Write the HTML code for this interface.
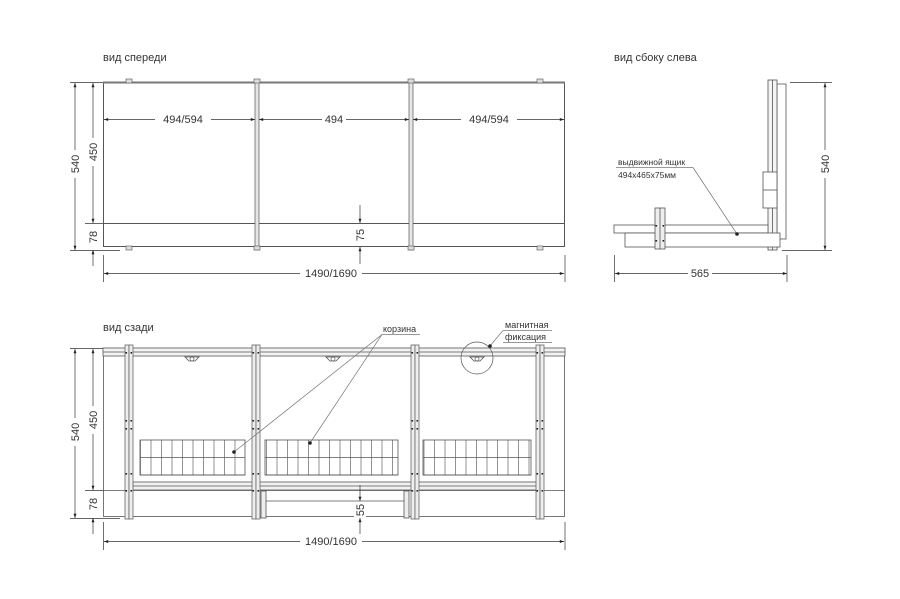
<!DOCTYPE html>
<html><head><meta charset="utf-8"><style>
html,body{margin:0;padding:0;background:#fff;width:900px;height:599px;overflow:hidden}
svg{display:block}
text{font-family:"Liberation Sans","DejaVu Sans",sans-serif;fill:#333}
</style></head><body>
<svg width="900" height="599" viewBox="0 0 900 599" xmlns="http://www.w3.org/2000/svg">
<defs>
<marker id="a" viewBox="0 0 10 10" refX="10" refY="5" markerWidth="8" markerHeight="6" orient="auto-start-reverse"><path d="M0,1.5 L10,5 L0,8.5 z" fill="#222"/></marker>
<pattern id="vg" x="140" y="0" width="10.5" height="10" patternUnits="userSpaceOnUse"><line x1="0.5" y1="0" x2="0.5" y2="10" stroke="#777" stroke-width="0.8"/></pattern>
<g id="post">
<rect x="0" y="0" width="4" height="174" fill="#eee" stroke="#666" stroke-width="0.8"/>
<rect x="4" y="0" width="4" height="174" fill="#eee" stroke="#666" stroke-width="0.8"/>
<g fill="#222"><rect x="0.5" y="7" width="1.6" height="1.6"/><rect x="5.5" y="7" width="1.6" height="1.6"/>
<rect x="0.5" y="75" width="1.6" height="1.6"/><rect x="5.5" y="75" width="1.6" height="1.6"/>
<rect x="0.5" y="83" width="1.6" height="1.6"/><rect x="5.5" y="83" width="1.6" height="1.6"/>
<rect x="0.5" y="128" width="1.6" height="1.6"/><rect x="5.5" y="128" width="1.6" height="1.6"/>
<rect x="0.5" y="145" width="1.6" height="1.6"/><rect x="5.5" y="145" width="1.6" height="1.6"/></g>
</g>
<g id="bolt"><rect x="-3" y="-2" width="6" height="4" fill="#ddd" stroke="#666" stroke-width="0.7"/></g>
<g id="hook"><path d="M-7,0 L7,0 L3,4 L-3,4 z" fill="#fff" stroke="#555" stroke-width="0.8"/><circle cx="0" cy="2" r="2" fill="none" stroke="#555" stroke-width="0.7"/></g>
</defs>

<!-- Titles -->
<text x="103" y="61" font-size="11">вид спереди</text>
<text x="614" y="61" font-size="11">вид сбоку слева</text>
<text x="103" y="331" font-size="11">вид сзади</text>

<!-- FRONT VIEW -->
<g stroke="#555" fill="none">
<rect x="103.5" y="82.5" width="461" height="164" stroke-width="1"/>
<line x1="103" y1="82.5" x2="565" y2="82.5" stroke-width="2" stroke="#777"/>
<line x1="103" y1="223.5" x2="565" y2="223.5" stroke-width="1"/>
<rect x="255" y="80" width="4" height="170" fill="#e6e6e6" stroke-width="0.7"/>
<rect x="409" y="80" width="4" height="170" fill="#e6e6e6" stroke-width="0.7"/>
</g>
<use href="#bolt" x="129" y="81"/><use href="#bolt" x="257" y="81"/><use href="#bolt" x="411" y="81"/><use href="#bolt" x="540" y="81"/>
<use href="#bolt" x="129" y="248"/><use href="#bolt" x="257" y="248"/><use href="#bolt" x="411" y="248"/><use href="#bolt" x="540" y="248"/>
<g stroke="#333" stroke-width="0.7" fill="none">
<!-- vertical dims -->
<line x1="70" y1="82.5" x2="103" y2="82.5"/>
<line x1="70" y1="250.5" x2="120" y2="250.5"/>
<line x1="85" y1="223.5" x2="103" y2="223.5"/>
<line x1="75" y1="83" x2="75" y2="250" marker-start="url(#a)" marker-end="url(#a)"/>
<line x1="93" y1="83" x2="93" y2="223" marker-start="url(#a)" marker-end="url(#a)"/>
<line x1="93" y1="250" x2="93" y2="266" marker-start="url(#a)"/>
<!-- horizontal inner -->
<line x1="104" y1="119.5" x2="255" y2="119.5" marker-start="url(#a)" marker-end="url(#a)"/>
<line x1="259" y1="119.5" x2="409" y2="119.5" marker-start="url(#a)" marker-end="url(#a)"/>
<line x1="413" y1="119.5" x2="564" y2="119.5" marker-start="url(#a)" marker-end="url(#a)"/>
<line x1="360" y1="205" x2="360" y2="223" marker-end="url(#a)"/>
<line x1="360" y1="264" x2="360" y2="247" marker-end="url(#a)"/>
<!-- bottom dim -->
<line x1="103.5" y1="255" x2="103.5" y2="282"/>
<line x1="565" y1="255" x2="565" y2="282"/>
<line x1="104" y1="273.5" x2="564" y2="273.5" marker-start="url(#a)" marker-end="url(#a)"/>
</g>
<g font-size="11" text-anchor="middle">
<rect x="155" y="112" width="56" height="14" fill="#fff"/><text x="183" y="123">494/594</text>
<rect x="322" y="112" width="24" height="14" fill="#fff"/><text x="334" y="123">494</text>
<rect x="461" y="112" width="56" height="14" fill="#fff"/><text x="489" y="123">494/594</text>
<rect x="300" y="266" width="62" height="14" fill="#fff"/><text x="331" y="277">1490/1690</text>
<rect x="69" y="150" width="12" height="28" fill="#fff"/><text transform="translate(79,164) rotate(-90)">540</text>
<rect x="87" y="138" width="12" height="28" fill="#fff"/><text transform="translate(97,152) rotate(-90)">450</text>
<text transform="translate(97,237) rotate(-90)">78</text>
<rect x="354" y="226" width="12" height="18" fill="#fff"/><text transform="translate(364,235) rotate(-90)">75</text>
</g>

<!-- SIDE VIEW -->
<g stroke="#555" stroke-width="0.8" fill="#f4f4f4">
<rect x="777" y="84" width="9" height="155" fill="#fff"/>
<rect x="768" y="80" width="9" height="170"/>
<line x1="772.5" y1="80" x2="772.5" y2="250"/>
<rect x="763" y="172" width="14" height="36" fill="#fff"/>
<line x1="763" y1="190" x2="777" y2="190"/>
<rect x="614" y="225" width="154" height="8" fill="#fff"/>
<rect x="625" y="233" width="155" height="14" fill="#fff"/>
<rect x="655" y="208" width="10" height="41" fill="#eee"/>
<line x1="660" y1="208" x2="660" y2="249"/>
</g>
<g fill="#222"><rect x="655.5" y="225" width="1.6" height="1.6"/><rect x="662.5" y="225" width="1.6" height="1.6"/><rect x="655.5" y="240" width="1.6" height="1.6"/><rect x="662.5" y="240" width="1.6" height="1.6"/></g>
<g stroke="#333" stroke-width="0.7" fill="none">
<line x1="790" y1="82.5" x2="832" y2="82.5"/>
<line x1="782" y1="250.5" x2="832" y2="250.5"/>
<line x1="825" y1="83" x2="825" y2="250" marker-start="url(#a)" marker-end="url(#a)"/>
<line x1="614.5" y1="255" x2="614.5" y2="282"/>
<line x1="787" y1="255" x2="787" y2="282"/>
<line x1="615" y1="273.5" x2="787" y2="273.5" marker-start="url(#a)" marker-end="url(#a)"/>
<line x1="616" y1="167.5" x2="693" y2="167.5" stroke="#777"/>
<line x1="693" y1="167.5" x2="737" y2="234" stroke="#777"/>
</g>
<circle cx="737" cy="234" r="1.8" fill="#222"/>
<text x="618" y="165" font-size="8.5">выдвижной ящик</text>
<text x="618" y="178" font-size="8.5">494x465x75мм</text>
<g font-size="11" text-anchor="middle">
<rect x="819" y="150" width="12" height="28" fill="#fff"/><text transform="translate(829,164) rotate(-90)">540</text>
<rect x="688" y="266" width="24" height="14" fill="#fff"/><text x="700" y="277">565</text>
</g>

<!-- REAR VIEW -->
<g stroke="#555" stroke-width="0.8" fill="none">
<rect x="103.5" y="348.5" width="461" height="168"/>
<rect x="103" y="348" width="462" height="8" fill="#f2f2f2"/>
<line x1="103" y1="352" x2="565" y2="352"/>
<rect x="133" y="482" width="404" height="8" fill="#f2f2f2"/>
<line x1="133" y1="486" x2="537" y2="486"/>
<line x1="103" y1="490.5" x2="565" y2="490.5"/>
<line x1="266" y1="501" x2="405" y2="501"/>
<!-- baskets -->
<rect x="140" y="440" width="105" height="35" fill="url(#vg)"/>
<rect x="265" y="440" width="133" height="35" fill="url(#vg)"/>
<rect x="423" y="440" width="108" height="35" fill="url(#vg)"/>
<line x1="140" y1="457.5" x2="245" y2="457.5"/><line x1="265" y1="457.5" x2="398" y2="457.5"/><line x1="423" y1="457.5" x2="531" y2="457.5"/>
<line x1="140" y1="475" x2="245" y2="475"/><line x1="265" y1="475" x2="398" y2="475"/><line x1="423" y1="475" x2="531" y2="475"/>
<rect x="261" y="491" width="5" height="27" fill="#eee"/>
<rect x="404" y="491" width="5" height="27" fill="#eee"/>
</g>
<use href="#post" x="125" y="345"/><use href="#post" x="252" y="345"/><use href="#post" x="411" y="345"/><use href="#post" x="536" y="345"/>
<use href="#hook" x="192" y="357"/><use href="#hook" x="333" y="357"/><use href="#hook" x="477" y="357"/>
<circle cx="477" cy="358" r="16" fill="none" stroke="#555" stroke-width="0.7"/>
<g stroke="#333" stroke-width="0.7" fill="none">
<line x1="70" y1="348.5" x2="103" y2="348.5"/>
<line x1="70" y1="518.5" x2="120" y2="518.5"/>
<line x1="85" y1="490.5" x2="103" y2="490.5"/>
<line x1="75" y1="349" x2="75" y2="518" marker-start="url(#a)" marker-end="url(#a)"/>
<line x1="93" y1="349" x2="93" y2="490" marker-start="url(#a)" marker-end="url(#a)"/>
<line x1="93" y1="518" x2="93" y2="534" marker-start="url(#a)"/>
<line x1="360" y1="485" x2="360" y2="501" marker-end="url(#a)"/>
<line x1="360" y1="534" x2="360" y2="518" marker-end="url(#a)"/>
<line x1="103.5" y1="522" x2="103.5" y2="550"/>
<line x1="565" y1="522" x2="565" y2="550"/>
<line x1="104" y1="541.5" x2="564" y2="541.5" marker-start="url(#a)" marker-end="url(#a)"/>
<line x1="382" y1="334.5" x2="420" y2="334.5" stroke="#777"/>
<line x1="382" y1="334.5" x2="234" y2="452" stroke="#777"/>
<line x1="382" y1="334.5" x2="310" y2="443" stroke="#777"/>
<line x1="503" y1="342.5" x2="552" y2="342.5" stroke="#777"/>
<line x1="503" y1="330.5" x2="552" y2="330.5" stroke="#777"/>
<line x1="503" y1="330.5" x2="490" y2="346" stroke="#777"/>
</g>
<circle cx="234" cy="452" r="1.8" fill="#222"/><circle cx="310" cy="443" r="1.8" fill="#222"/><circle cx="490" cy="346" r="1.8" fill="#222"/>
<text x="383" y="332" font-size="9">корзина</text>
<text x="505" y="328" font-size="9">магнитная</text>
<text x="505" y="340" font-size="9">фиксация</text>
<g font-size="11" text-anchor="middle">
<rect x="69" y="418" width="12" height="28" fill="#fff"/><text transform="translate(79,432) rotate(-90)">540</text>
<rect x="87" y="406" width="12" height="28" fill="#fff"/><text transform="translate(97,420) rotate(-90)">450</text>
<text transform="translate(97,504) rotate(-90)">78</text>
<rect x="354" y="502" width="12" height="16" fill="#fff"/><text transform="translate(364,510) rotate(-90)">55</text>
<rect x="300" y="534" width="62" height="14" fill="#fff"/><text x="331" y="545">1490/1690</text>
</g>
</svg>
</body></html>
